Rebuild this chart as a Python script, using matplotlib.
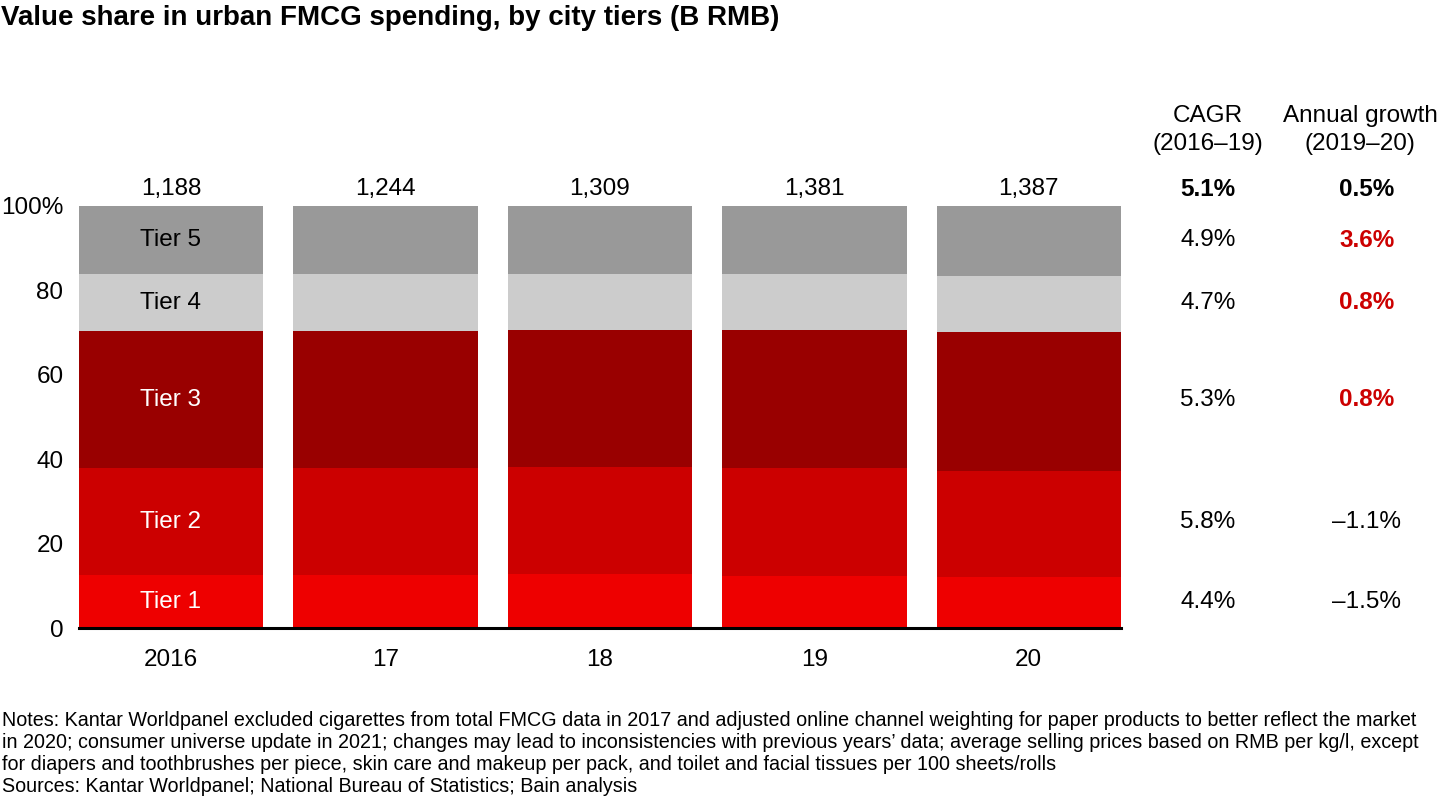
import matplotlib
matplotlib.use("Agg")
import matplotlib.pyplot as plt
import matplotlib.transforms as mtransforms

plt.rcParams['font.family'] = ['Liberation Sans', 'DejaVu Sans']

# ---- data ----
years = ['2016', '17', '18', '19', '20']
totals = ['1,188', '1,244', '1,309', '1,381', '1,387']
tiers = ['Tier 1', 'Tier 2', 'Tier 3', 'Tier 4', 'Tier 5']
tier1 = [12.6, 12.6, 12.9, 12.4, 12.1]
tier2 = [25.3, 25.3, 25.3, 25.6, 25.2]
tier3 = [32.5, 32.6, 32.4, 32.7, 32.9]
tier4 = [13.4, 13.4, 13.3, 13.2, 13.2]
tier5 = [16.2, 16.1, 16.1, 16.1, 16.6]
cagr_total = '5.1%'
annual_total = '0.5%'
cagr = ['4.4%', '5.8%', '5.3%', '4.7%', '4.9%']          # tier1..tier5
annual = ['–1.5%', '–1.1%', '0.8%', '0.8%', '3.6%']      # tier1..tier5
annual_highlight = [False, False, True, True, True]
yticks = [0, 20, 40, 60, 80, 100]
ytick_labels = ['0', '20', '40', '60', '80', '100%']

colors = ['#EE0000', '#CC0000', '#990000', '#CCCCCC', '#999999']
label_colors = ['white', 'white', 'white', 'black', 'black']
series = [tier1, tier2, tier3, tier4, tier5]

FS = 17.5
W, H = 1440, 810
fig = plt.figure(figsize=(W / 100, H / 100), dpi=100)
ax = fig.add_axes([78.7 / W, (H - 628.3) / H, (1121 - 78.7) / W, (628.3 - 206) / H])

x = list(range(len(years)))
width = 0.86
bottom = [0.0] * len(years)
for vals, c in zip(series, colors):
    ax.bar(x, vals, width=width, bottom=bottom, color=c, edgecolor='none', zorder=2)
    bottom = [b + v for b, v in zip(bottom, vals)]

ax.set_xlim(-width / 2, len(years) - 1 + width / 2)
ax.set_ylim(0, 100)
for s in ['top', 'right', 'left']:
    ax.spines[s].set_visible(False)
ax.spines['bottom'].set_linewidth(2.2)
ax.spines['bottom'].set_color('black')
ax.spines['bottom'].set_zorder(3)

ax.set_yticks(yticks)
ax.set_yticklabels(ytick_labels, fontsize=FS)
ax.set_xticks(x)
ax.set_xticklabels(years, fontsize=FS)
ax.tick_params(axis='y', length=0, pad=11)
ax.tick_params(axis='x', length=0, pad=15)

# tier labels inside 2016 bar
b = 0.0
centers = []
for name, vals, lc in zip(tiers, series, label_colors):
    centers.append(b + vals[0] / 2)
    ax.text(0, b + vals[0] / 2, name, ha='center', va='center', fontsize=FS, color=lc, zorder=4)
    b += vals[0]

# totals above bars
TY = 104.0
for xi, t in zip(x, totals):
    ax.text(xi, TY, t, ha='center', va='center', fontsize=FS, clip_on=False)

# right-hand columns
tr = mtransforms.blended_transform_factory(fig.transFigure, ax.transData)
cx1, cx2h, cx2 = 1208 / W, 1360 / W, 1367 / W
fig.text(cx1, 1 - 116 / H, 'CAGR', ha='center', va='center', fontsize=FS)
fig.text(cx1, 1 - 144 / H, '(2016–19)', ha='center', va='center', fontsize=FS)
fig.text(cx2h, 1 - 116 / H, 'Annual growth', ha='center', va='center', fontsize=FS)
fig.text(cx2h, 1 - 144 / H, '(2019–20)', ha='center', va='center', fontsize=FS)
ax.text(cx1, TY, cagr_total, transform=tr, ha='center', va='center', fontsize=FS,
        fontweight='bold', clip_on=False)
ax.text(cx2, TY, annual_total, transform=tr, ha='center', va='center', fontsize=FS,
        fontweight='bold', clip_on=False)
for yc, cg, an, hl in zip(centers, cagr, annual, annual_highlight):
    ax.text(cx1, yc, cg, transform=tr, ha='center', va='center', fontsize=FS, clip_on=False)
    ax.text(cx2, yc, an, transform=tr, ha='center', va='center', fontsize=FS,
            fontweight='bold' if hl else 'normal', color='#CC0000' if hl else 'black',
            clip_on=False)

# title
fig.text(1 / W, 1 - 18 / H, 'Value share in urban FMCG spending, by city tiers (B RMB)',
         ha='left', va='center', fontsize=20, fontweight='bold')

notes = [
    "Notes: Kantar Worldpanel excluded cigarettes from total FMCG data in 2017 and adjusted online channel weighting for paper products to better reflect the market",
    "in 2020; consumer universe update in 2021; changes may lead to inconsistencies with previous years’ data; average selling prices based on RMB per kg/l, except",
    "for diapers and toothbrushes per piece, skin care and makeup per pack, and toilet and facial tissues per 100 sheets/rolls",
    "Sources: Kantar Worldpanel; National Bureau of Statistics; Bain analysis",
]
for i, line in enumerate(notes):
    fig.text(2 / W, 1 - (721 + 21.8 * i) / H, line, ha='left', va='center', fontsize=14.2)

fig.savefig('out.png', dpi=100)
